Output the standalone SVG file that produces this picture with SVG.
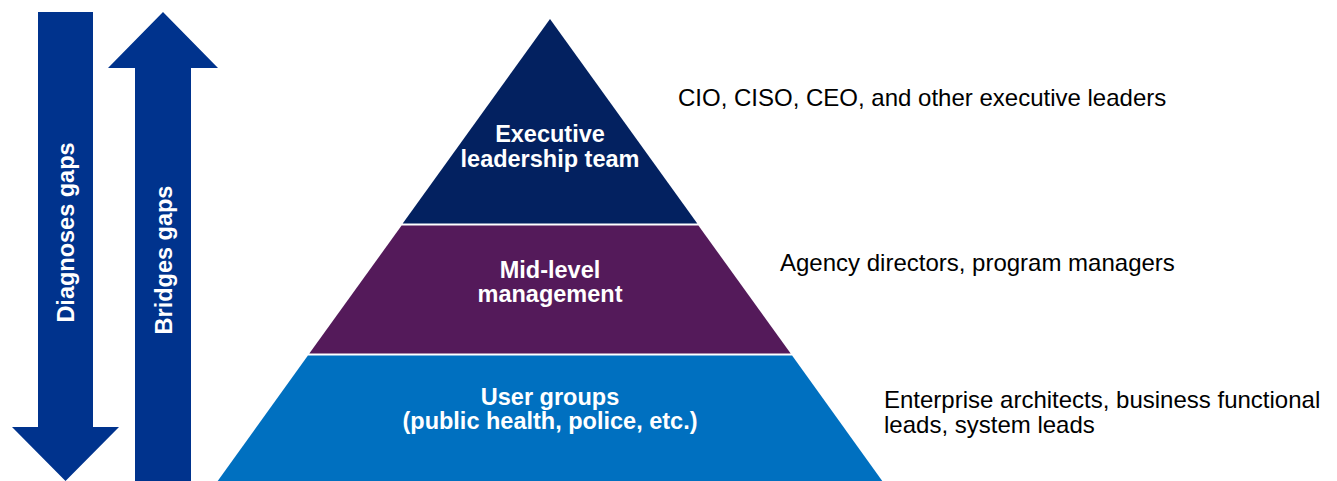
<svg xmlns="http://www.w3.org/2000/svg" width="1337" height="481" viewBox="0 0 1337 481">
  <style>
    .arrow { fill: #00338D; }
    .tier-label { font-family: "Liberation Sans", Arial, sans-serif; font-weight: bold; font-size: 23.5px; fill: #FFFFFF; text-anchor: middle; }
    .side-label { font-family: "Liberation Sans", Arial, sans-serif; font-size: 24px; fill: #000000; }
  </style>
  <rect width="1337" height="481" fill="#FFFFFF"/>

  <!-- direction arrows -->
  <g id="arrow-diagnoses">
    <path class="arrow" d="M38,12 H93 V427 H119 L65.5,481 L12,427 H38 Z"/>
    <text class="tier-label" transform="translate(65.5,232.5) rotate(-90)" x="0" y="8.5">Diagnoses gaps</text>
  </g>
  <g id="arrow-bridges">
    <path class="arrow" d="M163,12 L218,68 H191 V481 H135 V68 H108 Z"/>
    <text class="tier-label" transform="translate(163,260) rotate(-90)" x="0" y="8.5">Bridges gaps</text>
  </g>

  <!-- pyramid tiers -->
  <g id="tier-executive">
    <polygon points="550,19 697.3,223.5 402.7,223.5" fill="#032160"/>
    <text class="tier-label" x="550" y="142">Executive</text>
    <text class="tier-label" x="550" y="167">leadership team</text>
  </g>
  <g id="tier-mid">
    <polygon points="401.6,225.5 698.4,225.5 790.7,353.5 309.3,353.5" fill="#541A5A"/>
    <text class="tier-label" x="550" y="278">Mid-level</text>
    <text class="tier-label" x="550" y="302">management</text>
  </g>
  <g id="tier-users">
    <polygon points="307.9,355.5 792.1,355.5 883,482 217,482" fill="#0070C0"/>
    <text class="tier-label" x="550" y="405">User groups</text>
    <text class="tier-label" x="550" y="429">(public health, police, etc.)</text>
  </g>

  <!-- role descriptions -->
  <g id="note-executive">
    <text class="side-label" x="678" y="106">CIO, CISO, CEO, and other executive leaders</text>
  </g>
  <g id="note-mid">
    <text class="side-label" x="780" y="271">Agency directors, program managers</text>
  </g>
  <g id="note-users">
    <text class="side-label" x="884" y="408">Enterprise architects, business functional</text>
    <text class="side-label" x="884" y="433">leads, system leads</text>
  </g>

  <g id="connectors"/>
</svg>
